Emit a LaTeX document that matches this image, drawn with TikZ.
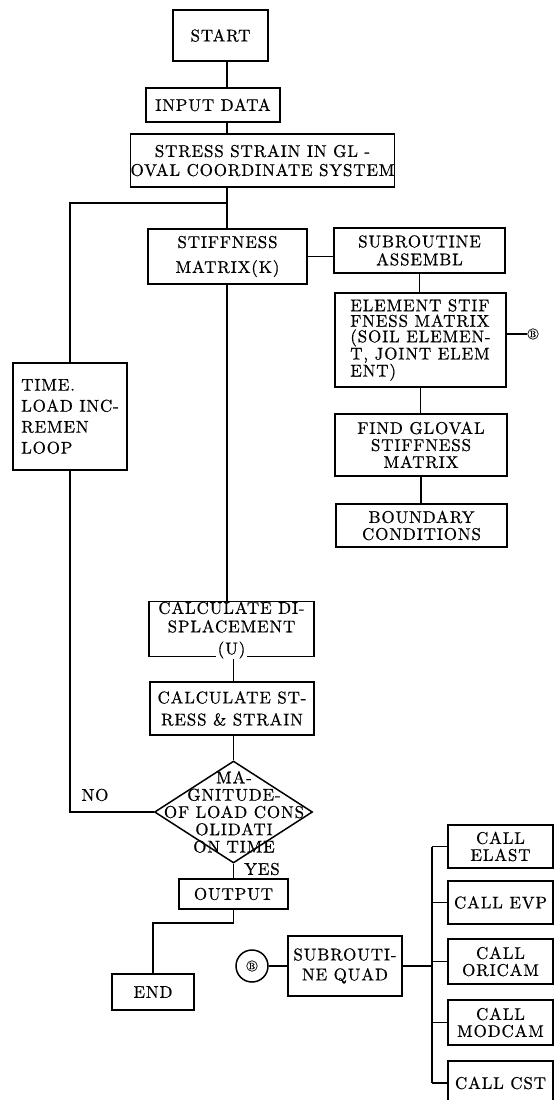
\documentclass[tikz,border=0pt]{standalone}
\usepackage{fontspec}
\setmainfont{lmroman10-regular.otf}[LetterSpace=5, FakeBold=0.6]
\usetikzlibrary{shapes.geometric}

\tikzset{
  box/.style={draw, inner sep=0pt, align=center, font=\fontsize{17}{18}\selectfont},
  lead/.style={font=\fontsize{17}{#1}\selectfont},
  bmark/.style={draw, circle, inner sep=0.6pt, line width=0.7pt, font=\fontsize{9}{9}\selectfont},
}

\begin{document}
\begin{tikzpicture}[x=1pt,y=-1pt,line width=1.5pt]
    \useasboundingbox (0,0) rectangle (554,1100);

    % Main column
    \node[box, minimum width=95pt, minimum height=51pt] (start) at (220.5,35.5) {START};
    \node[box, minimum width=134pt, minimum height=34pt] (input) at (213,105) {INPUT DATA};
    \node[box, lead=19, minimum width=253pt, minimum height=53pt] (stress) at (262.5,160.5) {STRESS STRAIN IN GL -\\OVAL COORDINATE SYSTEM};
    \node[box, lead=25, minimum width=159pt, minimum height=55pt] (stiff) at (227.5,256.5) {STIFFNESS\\MATRIX(K)};
    \node[box, lead=18.5, minimum width=165pt, minimum height=52pt] (disp) at (231.5,629) {CALCULATE DI-\\SPLACEMENT\\\strut};
    \node[fill=white, inner xsep=2pt, inner ysep=0pt, lead=17] (dispu) at (231.5,650) {(U)};
    \node[box, lead=22, minimum width=164pt, minimum height=53pt] (stress2) at (232,708.5) {CALCULATE ST-\\RESS \& STRAIN};

    % Decision
    \node[draw, diamond, minimum width=158pt, minimum height=102pt, inner sep=0pt] (dec) at (233.5,812) {};
    \node[align=center, lead=17.3, inner sep=0pt] (dectext) at (234,812) {MA-\\GNITUDE-\\OF LOAD CONS\\OLIDATI\\ON TIME};
    \node[lead=17] (no) at (95,795) {NO};
    \node[lead=17] (yes) at (262,869) {YES};

    \node[box, minimum width=109pt, minimum height=30pt] (output) at (233.5,894) {OUTPUT};
    \node[box, minimum width=82pt, minimum height=36pt] (end) at (153,992) {END};

    % Loop
    \node[box, align=left, lead=21, minimum width=114pt, minimum height=107pt] (time) at (70,416.5) {TIME.\\LOAD INC-\\REMEN\\LOOP};

    % Subroutine assembl
    \node[box, lead=18, minimum width=171pt, minimum height=45pt] (assembl) at (419.5,250.5) {SUBROUTINE\\ASSEMBL};
    \node[box, align=left, lead=15.5, minimum width=171pt, minimum height=94pt] (element) at (420.5,340) {ELEMENT STIF\\FNESS MATRIX\\(SOIL ELEMEN-\\T, JOINT ELEM\\ENT)};
    \node[bmark] (belem) at (533,334) {B};
    \node[box, lead=17, minimum width=172pt, minimum height=62pt] (find) at (421,445) {FIND GLOVAL\\STIFFNESS\\MATRIX};
    \node[box, lead=17, minimum width=171pt, minimum height=43pt] (bound) at (421.5,525.5) {BOUNDARY\\CONDITIONS};

    % Subroutine quad
    \node[draw, circle, minimum size=32pt, inner sep=0pt] (bcirc) at (252,966) {};
    \node[bmark] (bquad) at (252,966) {B};
    \node[box, lead=20, minimum width=114pt, minimum height=60pt] (quad) at (345,966) {SUBROUTI-\\NE QUAD};
    \node[box, lead=17, minimum width=105pt, minimum height=43pt] (elast) at (500.5,846.5) {CALL\\ELAST};
    \node[box, minimum width=105pt, minimum height=43pt] (evp) at (500.5,902.5) {CALL EVP};
    \node[box, lead=17, minimum width=105pt, minimum height=45pt] (oricam) at (500.5,961.5) {CALL\\ORICAM};
    \node[box, lead=17, minimum width=105pt, minimum height=45pt] (modcam) at (500.5,1022.5) {CALL\\MODCAM};
    \node[box, minimum width=105pt, minimum height=44pt] (cst) at (500.5,1083) {CALL CST};

    % Connectors
    \coordinate (trunk) at (227,0);
    \coordinate (trunkb) at (233.5,0);
    \coordinate (loopjoin) at (227,203);
    \coordinate (outbend) at (233.5,923);
    \coordinate (bus) at (432,0);

    \draw (start.south -| trunk) -- (input.north -| trunk);
    \draw (input.south -| trunk) -- (stress.north -| trunk);
    \draw (stress.south -| trunk) -- (stiff.north -| trunk);
    \draw (loopjoin) -| (time.north);
    \draw (stiff.south -| trunk) -- (disp.north -| trunk);
    \draw (stiff.east) -- (stiff.east -| assembl.west);
    \draw (assembl.south) -- (assembl.south |- element.north);
    \draw (element.south) -- (element.south |- find.north);
    \draw (find.south) -- (find.south |- bound.north);
    \draw (element.east |- belem) -- (belem.west);
    \draw (dispu.south -| trunkb) -- (stress2.north -| trunkb);
    \draw (stress2.south -| trunkb) -- (dec.north);
    \draw (dec.south) -- (output.north);
    \draw (dec.west) -| (time.south);
    \draw (output.south) -- (outbend) -| (end.north);
    \draw (bcirc.east) -- (quad.west);
    \draw (quad.east) -- (quad.east -| bus);
    \draw (elast.west -| bus) -- (cst.west -| bus);
    \foreach \call in {elast,evp,oricam,modcam,cst}
        \draw (\call.west -| bus) -- (\call.west);
\end{tikzpicture}
\end{document}
